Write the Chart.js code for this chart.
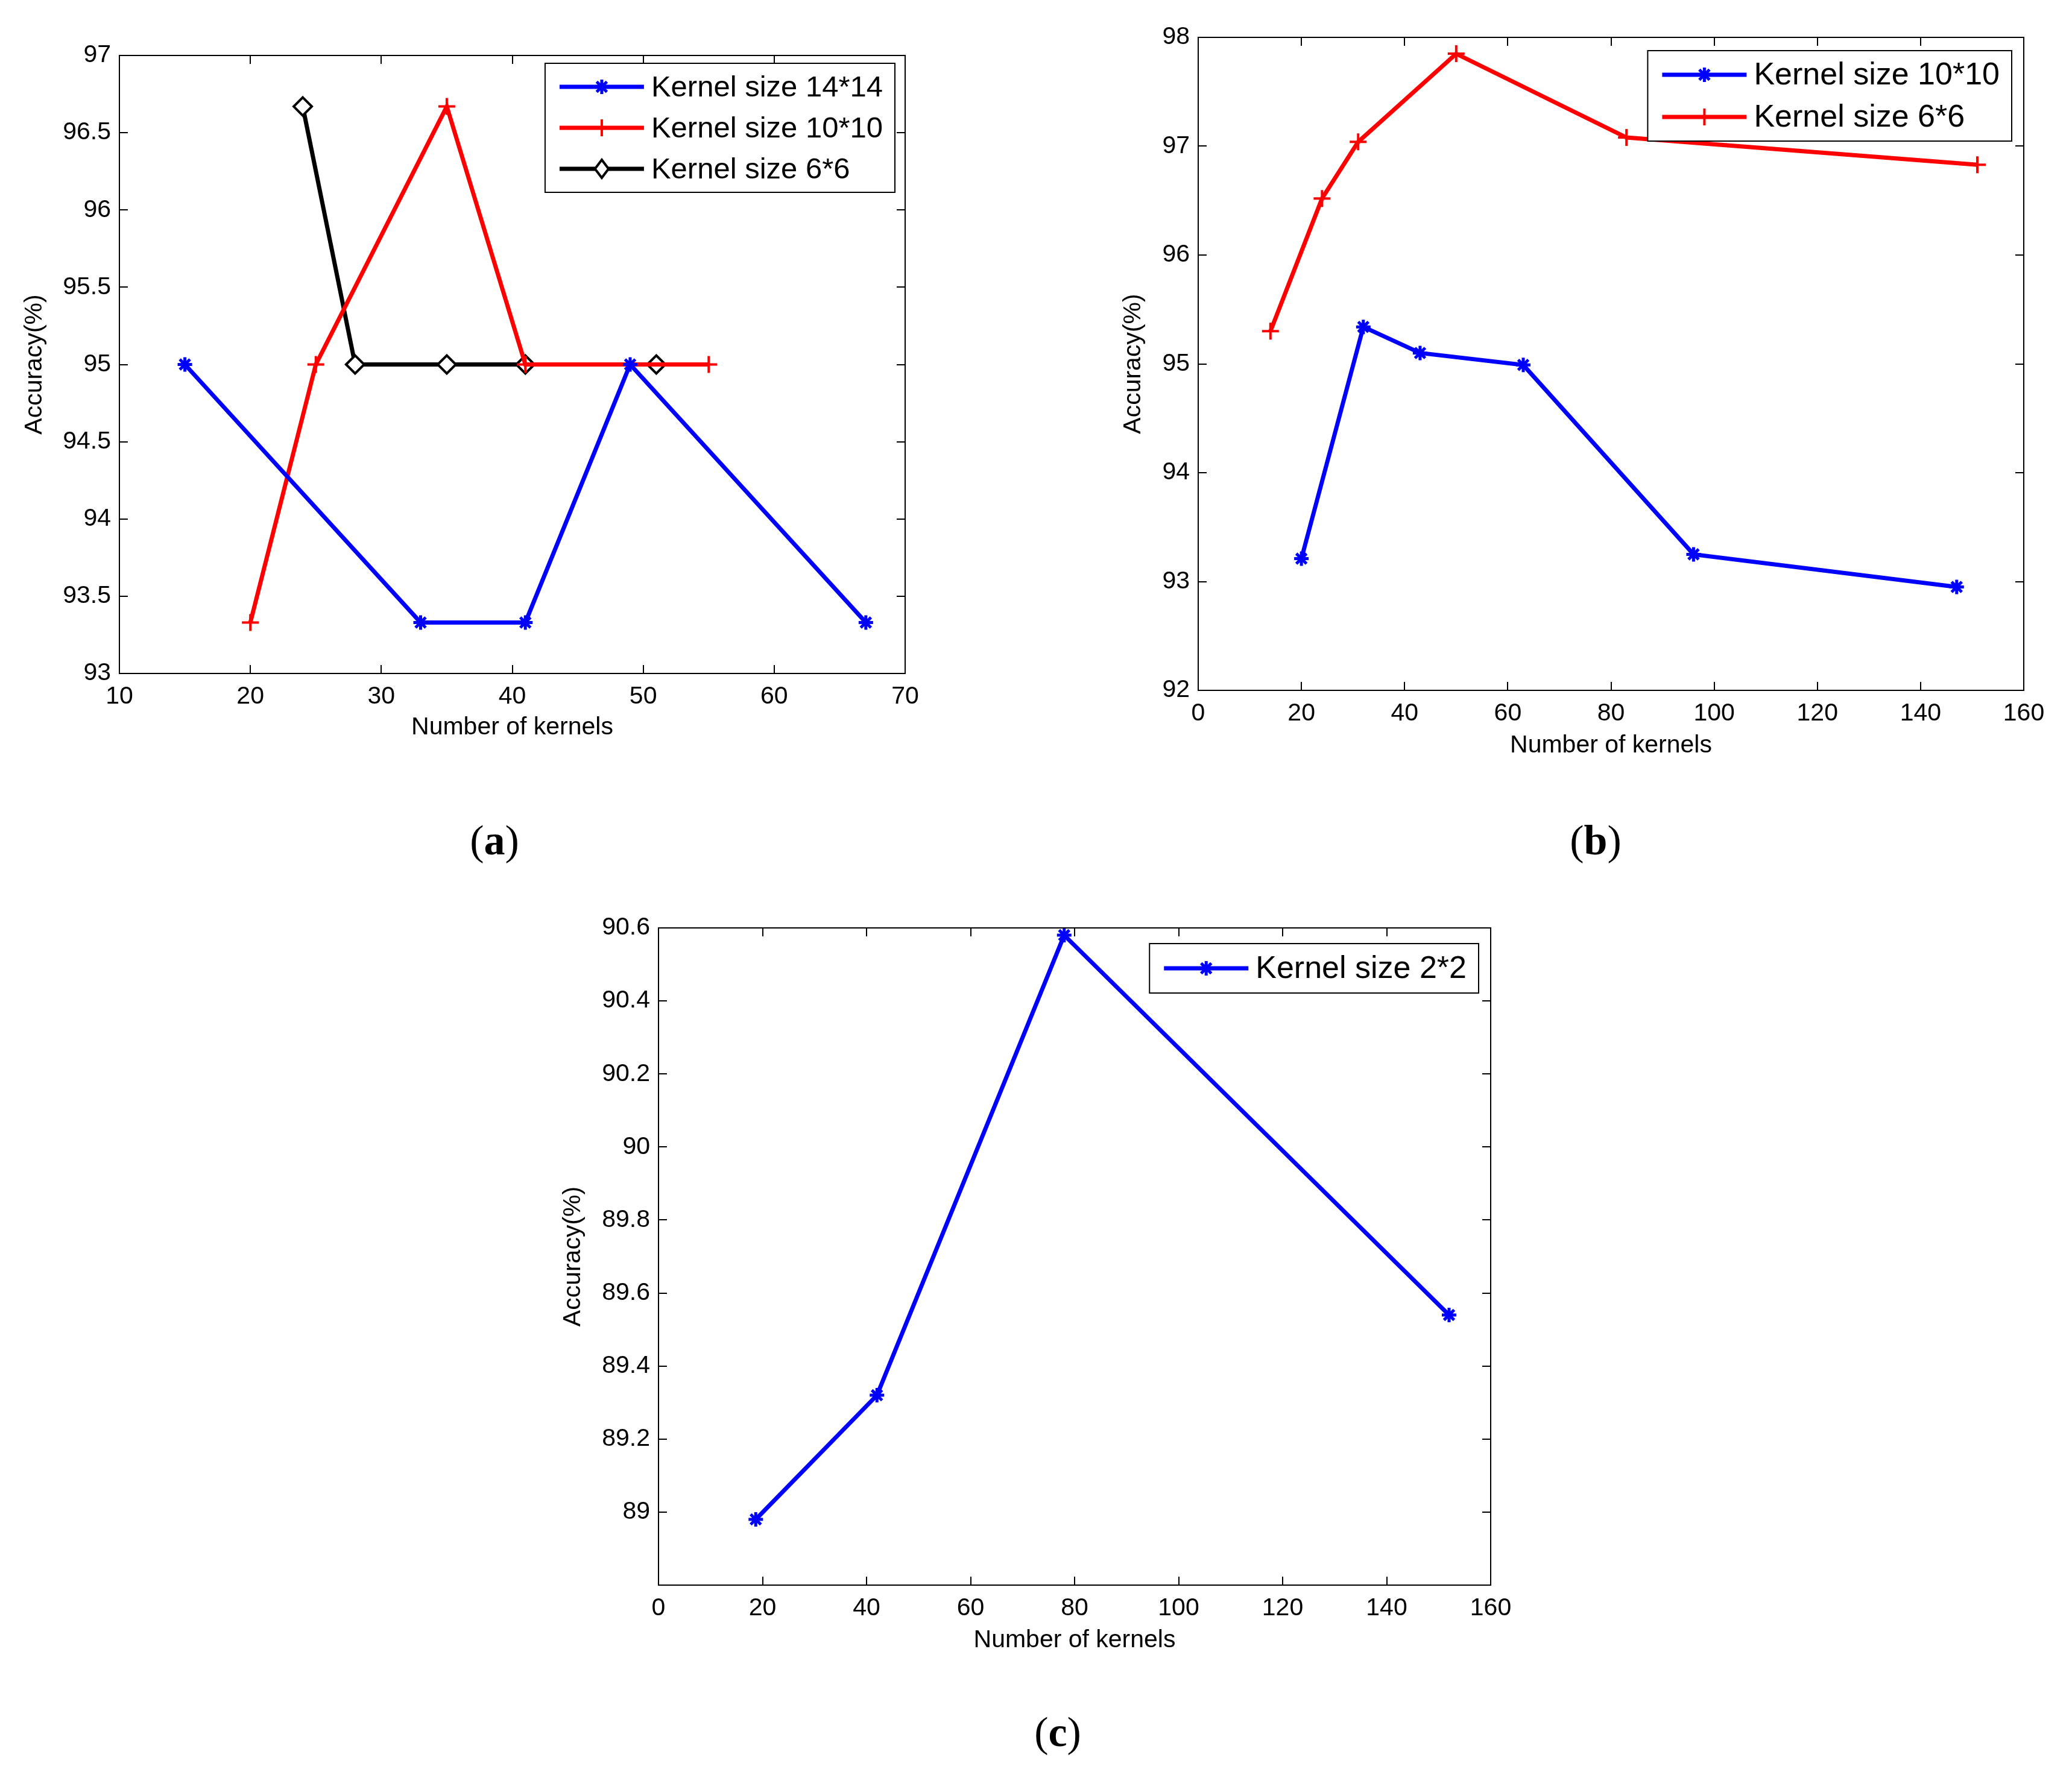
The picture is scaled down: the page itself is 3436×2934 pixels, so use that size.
<!DOCTYPE html>
<html>
<head>
<meta charset="utf-8">
<script src="https://cdn.jsdelivr.net/npm/chart.js@4/dist/chart.umd.min.js"></script>
<style>
  html, body { margin: 0; padding: 0; background: #fff; }
  body { width: 3436px; height: 2934px; position: relative; overflow: hidden; }
  canvas { position: absolute; }
  .cap { position: absolute; transform: translate(-50%, -50%); font-family: "Liberation Serif", "Times New Roman", serif; font-size: 70px; color: #000; }
</style>
</head>
<body>
<canvas id="chartA" width="1600" height="1250" style="left:0px;top:0px;width:1600px;height:1250px"></canvas>
<canvas id="chartB" width="1656" height="1300" style="left:1780px;top:0px;width:1656px;height:1300px"></canvas>
<canvas id="chartC" width="1700" height="1380" style="left:880px;top:1400px;width:1700px;height:1380px"></canvas>
<div class="cap" style="left:820px;top:1394px">(<b>a</b>)</div>
<div class="cap" style="left:2646px;top:1394px">(<b>b</b>)</div>
<div class="cap" style="left:1754px;top:2873px">(<b>c</b>)</div>
<script>
// panel (a)
var kernelsA14 = [15, 33, 41, 49, 67];
var accA14 = [95, 93.33, 93.33, 95, 93.33];
var kernelsA10 = [20, 25, 35, 41, 55];
var accA10 = [93.33, 95, 96.67, 95, 95];
var kernelsA6 = [24, 28, 35, 41, 51];
var accA6 = [96.67, 95, 95, 95, 95];
var xTicksA = [10, 20, 30, 40, 50, 60, 70];
var yTicksA = [93, 93.5, 94, 94.5, 95, 95.5, 96, 96.5, 97];

// panel (b)
var kernelsB10 = [20, 32, 43, 63, 96, 147];
var accB10 = [93.21, 95.34, 95.10, 94.99, 93.25, 92.95];
var kernelsB6 = [14, 24, 31, 50, 83, 151];
var accB6 = [95.30, 96.52, 97.04, 97.85, 97.08, 96.83];
var xTicksB = [0, 20, 40, 60, 80, 100, 120, 140, 160];
var yTicksB = [92, 93, 94, 95, 96, 97, 98];

// panel (c)
var kernelsC2 = [18.7, 42, 78, 152];
var accC2 = [88.98, 89.32, 90.58, 89.54];
var xTicksC = [0, 20, 40, 60, 80, 100, 120, 140, 160];
var yTicksC = [89, 89.2, 89.4, 89.6, 89.8, 90, 90.2, 90.4, 90.6];

var FONT = '"Liberation Sans", Arial, sans-serif';

function pts(xs, ys) {
  return xs.map(function(x, i) { return {x: x, y: ys[i]}; });
}

function series(label, xs, ys, color, style) {
  var s = {
    label: label,
    data: pts(xs, ys),
    borderColor: color,
    backgroundColor: color,
    borderWidth: 7,
    pointStyle: style,
    pointRadius: 12,
    pointBorderWidth: 5,
    pointBorderColor: color,
    pointBackgroundColor: color,
    tension: 0
  };
  if (style == 'rectRot') {
    s.pointRadius = 15;
    s.pointBorderWidth = 4;
    s.pointBackgroundColor = '#fff';
  }
  if (style == 'cross') { s.pointRadius = 14; s.pointBorderWidth = 4; }
  return s;
}

function drawMarker(ctx, style, x, y, r, lw, stroke, fill) {
  ctx.save();
  ctx.strokeStyle = stroke;
  ctx.lineWidth = lw;
  ctx.beginPath();
  if (style == 'star' || style == 'cross') {
    var angles = style == 'star' ? [0, 45, 90, 135] : [0, 90];
    angles.forEach(function(a) {
      var rad = a * Math.PI / 180;
      ctx.moveTo(x - r * Math.cos(rad), y - r * Math.sin(rad));
      ctx.lineTo(x + r * Math.cos(rad), y + r * Math.sin(rad));
    });
    ctx.stroke();
  } else {
    ctx.moveTo(x, y - r);
    ctx.lineTo(x + r * 0.75, y);
    ctx.lineTo(x, y + r);
    ctx.lineTo(x - r * 0.75, y);
    ctx.closePath();
    ctx.fillStyle = fill;
    ctx.fill();
    ctx.stroke();
  }
  ctx.restore();
}

// box round the plot with inward tick marks on all four sides
var frame = {
  id: 'frame',
  afterDatasetsDraw: function(chart) {
    var ctx = chart.ctx, a = chart.chartArea;
    var x = chart.scales.x, y = chart.scales.y;
    var len = 14;
    ctx.save();
    ctx.strokeStyle = '#000';
    ctx.lineWidth = 2;
    ctx.beginPath();
    x.ticks.forEach(function(t) {
      var px = Math.round(x.getPixelForValue(t.value));
      ctx.moveTo(px, a.bottom); ctx.lineTo(px, a.bottom - len);
      ctx.moveTo(px, a.top); ctx.lineTo(px, a.top + len);
    });
    y.ticks.forEach(function(t) {
      var py = Math.round(y.getPixelForValue(t.value));
      ctx.moveTo(a.left, py); ctx.lineTo(a.left + len, py);
      ctx.moveTo(a.right, py); ctx.lineTo(a.right - len, py);
    });
    ctx.stroke();
    ctx.strokeRect(a.left, a.top, a.right - a.left, a.bottom - a.top);
    ctx.restore();
  }
};

// MATLAB-like legend inside the top right corner
var boxLegend = {
  id: 'boxLegend',
  afterDraw: function(chart, args, opts) {
    var ctx = chart.ctx, a = chart.chartArea;
    var sets = chart.data.datasets;
    ctx.save();
    ctx.font = opts.fontSize + 'px ' + FONT;
    var tw = 0;
    sets.forEach(function(d) { tw = Math.max(tw, ctx.measureText(d.label).width); });
    var w = opts.padL + opts.lineLen + opts.gap + tw + opts.padR;
    var h = sets.length * opts.rowH + opts.padV * 2;
    var left = a.right - opts.right - w;
    var top = a.top + opts.top;
    ctx.fillStyle = '#fff';
    ctx.fillRect(left, top, w, h);
    ctx.strokeStyle = '#000';
    ctx.lineWidth = 2;
    ctx.strokeRect(left, top, w, h);
    sets.forEach(function(d, i) {
      var cy = top + opts.padV + opts.rowH * (i + 0.5);
      var x0 = left + opts.padL;
      ctx.strokeStyle = d.borderColor;
      ctx.lineWidth = 7;
      ctx.beginPath();
      ctx.moveTo(x0, cy);
      ctx.lineTo(x0 + opts.lineLen, cy);
      ctx.stroke();
      drawMarker(ctx, d.pointStyle, x0 + opts.lineLen / 2, cy, d.pointRadius, d.pointBorderWidth,
                 d.borderColor, d.pointBackgroundColor);
      ctx.fillStyle = '#000';
      ctx.textBaseline = 'middle';
      ctx.textAlign = 'left';
      ctx.fillText(d.label, x0 + opts.lineLen + opts.gap, cy + 2);
    });
    ctx.restore();
  }
};

function fmt(v) { return String(+Number(v).toFixed(2)); }

function makeChart(id, g) {
  var ctx = document.getElementById(id);
  return new Chart(ctx, {
    type: 'line',
    data: { datasets: g.datasets },
    plugins: [frame, boxLegend],
    options: {
      responsive: false,
      devicePixelRatio: 1,
      animation: false,
      layout: { padding: { top: g.padTop, right: g.padRight, left: 0, bottom: 0 } },
      plugins: {
        legend: { display: false },
        tooltip: { enabled: false },
        boxLegend: {
          right: g.legRight, top: g.legTop, rowH: g.rowH, padV: 5,
          padL: 24, lineLen: 140, gap: 12, padR: 20, fontSize: g.legFont
        }
      },
      scales: {
        x: {
          type: 'linear',
          min: g.xTicks[0],
          max: g.xTicks[g.xTicks.length - 1],
          afterBuildTicks: function(s) { s.ticks = g.xTicks.map(function(v) { return {value: v}; }); },
          afterFit: function(s) { s.height = g.xH; },
          grid: { display: false, drawTicks: false },
          border: { display: false },
          ticks: { color: '#000', padding: 14, maxRotation: 0, autoSkip: false,
                   font: { family: FONT, size: 41 }, callback: fmt },
          title: { display: true, text: 'Number of kernels', color: '#000',
                   font: { family: FONT, size: 41 }, padding: { top: 0, bottom: g.xTitlePad } }
        },
        y: {
          min: g.yMin,
          max: g.yMax,
          afterBuildTicks: function(s) { s.ticks = g.yTicks.map(function(v) { return {value: v}; }); },
          afterFit: function(s) { s.width = g.yW; },
          grid: { display: false, drawTicks: false },
          border: { display: false },
          ticks: { color: '#000', padding: 14, autoSkip: false,
                   font: { family: FONT, size: 41 }, callback: fmt },
          title: { display: true, text: 'Accuracy(%)', color: '#000',
                   font: { family: FONT, size: 41 }, padding: { top: g.yTitlePad, bottom: 0 } }
        }
      }
    }
  });
}

makeChart('chartA', {
  datasets: [
    series('Kernel size 14*14', kernelsA14, accA14, '#0000ff', 'star'),
    series('Kernel size 10*10', kernelsA10, accA10, '#ff0000', 'cross'),
    series('Kernel size 6*6', kernelsA6, accA6, '#000000', 'rectRot')
  ],
  xTicks: xTicksA, yTicks: yTicksA, yMin: 93, yMax: 97,
  padTop: 92, padRight: 99, yW: 198, xH: 133,
  xTitlePad: 19, yTitlePad: 33, legRight: 17, legTop: 13, legFont: 49, rowH: 68
});

makeChart('chartB', {
  datasets: [
    series('Kernel size 10*10', kernelsB10, accB10, '#0000ff', 'star'),
    series('Kernel size 6*6', kernelsB6, accB6, '#ff0000', 'cross')
  ],
  xTicks: xTicksB, yTicks: yTicksB, yMin: 92, yMax: 98,
  padTop: 62, padRight: 80, yW: 207, xH: 155,
  xTitlePad: 39, yTitlePad: 75, legRight: 20, legTop: 22, legFont: 52, rowH: 70
});

makeChart('chartC', {
  datasets: [
    series('Kernel size 2*2', kernelsC2, accC2, '#0000ff', 'star')
  ],
  xTicks: xTicksC, yTicks: yTicksC, yMin: 88.8, yMax: 90.6,
  padTop: 139, padRight: 108, yW: 212, xH: 151,
  xTitlePad: 35, yTitlePad: 46, legRight: 20, legTop: 26, legFont: 52, rowH: 72
});
</script>
</body>
</html>
